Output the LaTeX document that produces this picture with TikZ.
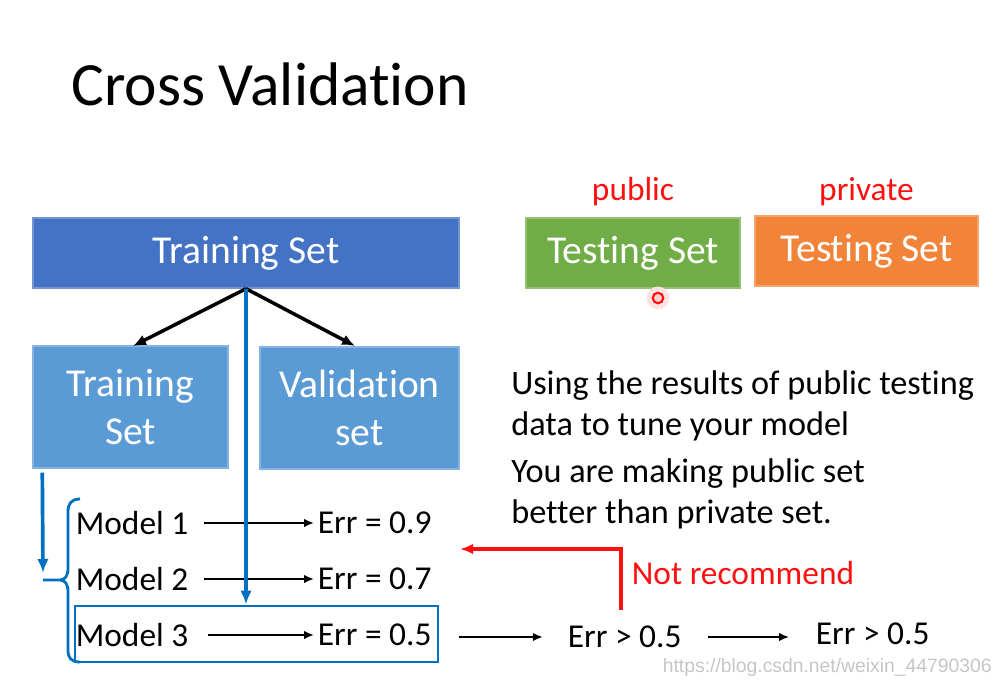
\documentclass[tikz,border=0pt]{standalone}
\usepackage{fontspec}
\setmainfont{Carlito}[Ligatures=NoCommon]
\usepackage{tikz}
\usetikzlibrary{arrows.meta,positioning,calc,fit}
\definecolor{SetBlue}{HTML}{4472C4}
\definecolor{SubBlue}{HTML}{5B9BD5}
\definecolor{PubGreen}{HTML}{70AD47}
\definecolor{PrivOrange}{HTML}{F2843A}
\definecolor{LineBlue}{HTML}{0070C0}
\definecolor{MarkRed}{HTML}{FF1010}

\begin{document}
\begin{tikzpicture}[
    x=0.02cm, y=-0.02cm,
    font=\fontsize{19pt}{23pt}\selectfont,
    setbox/.style={draw=#1!75!white, line width=0.8pt, fill=#1, inner sep=0pt},
    settxt/.style={text=white, align=center, font=\fontsize{22.5pt}{27pt}\selectfont},
    txt/.style={inner sep=2pt, anchor=west},
    arr/.style={-{Latex[length=2.6mm,width=2.2mm]}, line width=2pt, black},
    thinarr/.style={-{Latex[length=2mm,width=1.7mm]}, line width=1.4pt, black},
    barr/.style={-{Latex[length=2.8mm,width=2.3mm]}, line width=2.1pt, LineBlue},
    rarr/.style={-{Latex[length=2.6mm,width=2.1mm]}, line width=2pt, MarkRed},
    selbox/.style={draw=LineBlue, line width=1.6pt, inner sep=0pt}
  ]
    \useasboundingbox[fill=white] (0,0) rectangle (1001,688);

    % title
    \node[anchor=west, inner sep=0pt, font=\fontsize{35pt}{40pt}\selectfont] (title) at (71,84) {Cross Validation};

    % data sets
    \node[setbox=SetBlue, fit={(33,218) (459,288)}] (train) {};
    \node[settxt] at (train.center) {Training Set};
    \node[setbox=SubBlue, fit={(33,346) (228,468)}] (sub) {};
    \node[settxt] at (sub.center) {Training\\Set};
    \node[setbox=SubBlue, fit={(260,347) (459,469)}] (val) {};
    \node[settxt] at (val.center) {Validation\\set};
    \node[setbox=PubGreen, fit={(526,218) (740,288)}] (pub) {};
    \node[settxt] at (pub.center) {Testing Set};
    \node[setbox=PrivOrange, fit={(755,216) (978,286)}] (priv) {};
    \node[settxt] at (priv.center) {Testing Set};
    \node[text=MarkRed, above=3pt of pub] (publbl) {public};
    \node[text=MarkRed, above=2pt of priv] (privlbl) {private};
    \node[circle, fill=MarkRed!12, inner sep=0pt, minimum size=13pt] (glow) at (658,298) {};
    \node[circle, draw=MarkRed, fill=MarkRed!20, line width=1.2pt, inner sep=0pt,
          minimum size=6pt] (dot) at (658,298) {};

    \draw[arr] (train.south) -- (133,346);
    \draw[arr] (train.south) -- (355,346);

    % models
    \node[txt] (m1) at (72,523) {Model 1};
    \node[txt] (m2) at (72,579) {Model 2};
    \node[txt] (m3) at (72,635) {Model 3};
    \node[txt] (e1) at (314,523) {Err = 0.9};
    \node[txt] (e2) at (314,579) {Err = 0.7};
    \node[txt] (e3) at (314,635) {Err = 0.5};
    \draw[thinarr, shorten <=7pt] (m1) -- (e1);
    \draw[thinarr, shorten <=7pt] (m2) -- (e2);
    \draw[thinarr, shorten <=9pt] (m3) -- (e3);
    \node[selbox, fit={(75,606) (438,662)}] (best) {};

    \draw[barr] (train.south) -- (train.south |- best.north);
    \coordinate (bstart) at ($(sub.south west)+(10,4)$);
    \coordinate (btip) at (43,573);
    \draw[barr] (bstart) -- (btip);
    \draw[LineBlue, line width=1.6pt]
      (80,499) .. controls (71,499) and (68,504) .. (68,512) -- (68,568)
      .. controls (68,576) and (65,580) .. (60,580) -- (43,580)
      (60,580) .. controls (65,580) and (68,584) .. (68,592) -- (68,650)
      .. controls (68,658) and (71,662) .. (80,662);

    % later steps
    \node[txt] (gt1) at (564,637) {Err > 0.5};
    \node[txt] (gt2) at (812,634) {Err > 0.5};
    \draw[thinarr, shorten <=11pt, shorten >=12pt] (best.east |- gt1.west) -- (gt1.west);
    \draw[thinarr, shorten <=13pt, shorten >=13pt] (gt1.east) -- (gt1.east -| gt2.west);
    \coordinate (nrend) at (460,549);
    \draw[rarr] (621,610) |- (nrend);
    \node[txt, text=MarkRed] (notrec) at (628,573) {Not recommend};

    % remark
    \node[txt, align=left, inner sep=0pt, font=\fontsize{19.5pt}{23pt}\selectfont] (note1) at (511,406)
      {Using the results of public testing\\data to tune your model};
    \node[txt, align=left, inner sep=0pt, font=\fontsize{19.5pt}{23pt}\selectfont] (note2) at (511,494)
      {You are making public set\\better than private set.};

    % watermark
    \node[anchor=east, text=gray!45, inner sep=0pt,
          font=\fontspec{Liberation Sans}\fontsize{11pt}{13pt}\selectfont] (wm) at (992,668)
      {https://blog.csdn.net/weixin\_44790306};
\end{tikzpicture}
\end{document}
